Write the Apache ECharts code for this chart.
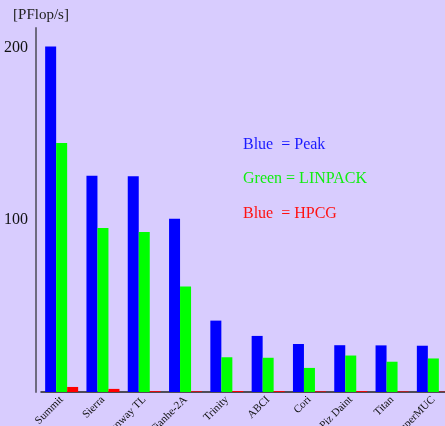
<!DOCTYPE html>
<html>
<head>
<meta charset="utf-8">
<script src="https://cdn.jsdelivr.net/npm/echarts@6/dist/echarts.min.js"></script>
<style>
  html, body { margin: 0; padding: 0; background: #d8ccfe; }
  #chart { width: 445px; height: 426px; }
</style>
</head>
<body>
<div id="chart"></div>
<script>
const systems = ['Summit', 'Sierra', 'Sunway TL', 'Tianhe-2A', 'Trinity', 'ABCI', 'Cori', 'Piz Daint', 'Titan', 'SuperMUC']
const peak = [200.8, 125.7, 125.4, 100.7, 41.5, 32.6, 27.9, 27.2, 27.1, 26.9]
const linpack = [144.8, 95.3, 93.0, 61.4, 20.2, 19.9, 14.0, 21.2, 17.6, 19.5]
const hpcg = [2.93, 1.80, 0.48, 0.4, 0.55, 0.51, 0.36, 0.50, 0.32, 0.2]
const yTicks = [0, 100, 200]

const serif = '"Liberation Serif", "DejaVu Serif", serif'

const chart = echarts.init(document.getElementById('chart'))

chart.setOption({
    backgroundColor: '#d8ccfe',
    animation: false,
    grid: { left: 41, right: -9, top: 28, bottom: 34, containLabel: false, outerBoundsMode: 'none' },
    xAxis: {
        type: 'category',
        data: systems,
        axisLine: { lineStyle: { color: '#222', width: 1.5 } },
        axisTick: { show: false },
        axisLabel: {
            rotate: 45,
            margin: 6,
            interval: 0,
            fontFamily: serif,
            fontSize: 11,
            color: '#111'
        }
    },
    yAxis: {
        type: 'value',
        min: 0,
        max: 211.6,
        interval: 100,
        offset: 5,
        name: '[PFlop/s]',
        nameLocation: 'end',
        nameGap: 5,
        nameTextStyle: { fontFamily: serif, fontSize: 15, color: '#222', align: 'center', padding: [0, 0, 0, 10] },
        splitLine: { show: false },
        axisTick: { show: false },
        axisLine: { show: true, lineStyle: { color: '#6e6a80', width: 2 } },
        axisLabel: {
            showMaxLabel: false,
            margin: 8,
            fontFamily: serif,
            fontSize: 16,
            color: '#111',
            formatter: v => yTicks.includes(v) && v > 0 ? String(v) : ''
        }
    },
    graphic: [
        { type: 'text', left: 243, top: 137, style: { text: 'Blue  = Peak', fill: '#1a1aff', font: '16px ' + serif } },
        { type: 'text', left: 243, top: 171, style: { text: 'Green = LINPACK', fill: '#11ee11', font: '16px ' + serif } },
        { type: 'text', left: 243, top: 206, style: { text: 'Blue  = HPCG', fill: '#ff1111', font: '16px ' + serif } }
    ],
    series: [
        { name: 'Peak', type: 'bar', data: peak, barWidth: 11, barGap: '0%', itemStyle: { color: '#0000ff' } },
        { name: 'LINPACK', type: 'bar', data: linpack, barWidth: 11, barGap: '0%', itemStyle: { color: '#00ff00' } },
        { name: 'HPCG', type: 'bar', data: hpcg, barWidth: 11, barGap: '0%', itemStyle: { color: '#ff0000' } }
    ]
})
</script>
</body>
</html>
